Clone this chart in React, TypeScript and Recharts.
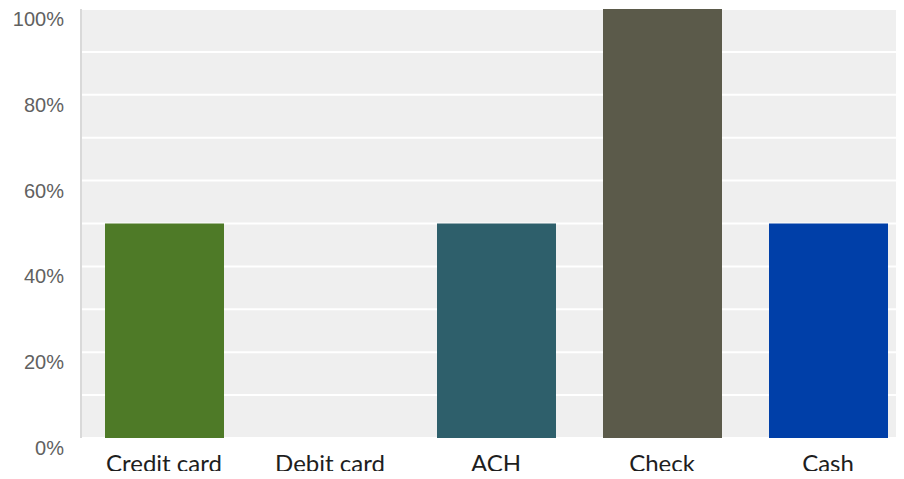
import { Bar, BarChart, CartesianGrid, Cell, XAxis, YAxis } from "recharts";

const methods = ["Credit card", "Debit card", "ACH", "Check", "Cash"];
const shares = [50, 0, 50, 100, 50];
const barColors = ["#4e7a27", "#4a4a4a", "#2e5f6b", "#5b5a4a", "#003fa8"];
const gridTicks = [0, 10, 20, 30, 40, 50, 60, 70, 80, 90, 100];
const labelTicks = [0, 20, 40, 60, 80, 100];

const data = methods.map((method, i) => ({ method, share: shares[i] }));

function PercentTick({ y, payload }: { y?: number; payload?: { value: number } }) {
  const value = payload?.value ?? 0;
  if (!labelTicks.includes(value)) return null;
  return (
    <text
      x={64}
      y={(y ?? 0) + 10}
      dy="0.35em"
      fill="#616161"
      fontFamily="'Liberation Sans', Arial, sans-serif"
      fontSize={20}
      textAnchor="end"
    >
      {`${value}%`}
    </text>
  );
}

function MethodTick({ x, y, payload }: { x?: number; y?: number; payload?: { value: string } }) {
  return (
    <text
      x={x}
      y={(y ?? 0) + 26}
      fill="#1e1e1e"
      fontFamily="Lato, 'Open Sans', sans-serif"
      fontSize={24}
      textAnchor="middle"
    >
      {payload?.value}
    </text>
  );
}

export default function App() {
  return (
    <div style={{ margin: -8, width: 904, height: 479, overflow: "hidden", background: "#fff" }}>
      <BarChart
        data={data}
        height={479}
        margin={{ bottom: 0, left: 0, right: 9, top: 9 }}
        width={920}
        barSize={119}
      >
        <CartesianGrid
          fill="#efefef"
          stroke="#ffffff"
          strokeWidth={2}
          vertical={false}
        />
        <XAxis
          axisLine={false}
          dataKey="method"
          height={41}
          tick={<MethodTick />}
          tickLine={false}
        />
        <YAxis
          axisLine={{ stroke: "#d9d9d9", strokeWidth: 2 }}
          domain={[0, 100]}
          interval={0}
          tick={<PercentTick />}
          tickLine={false}
          ticks={gridTicks}
          width={81}
        />
        <Bar dataKey="share" isAnimationActive={false}>
          {data.map((d, i) => (
            <Cell key={d.method} fill={barColors[i]} />
          ))}
        </Bar>
      </BarChart>
    </div>
  );
}
